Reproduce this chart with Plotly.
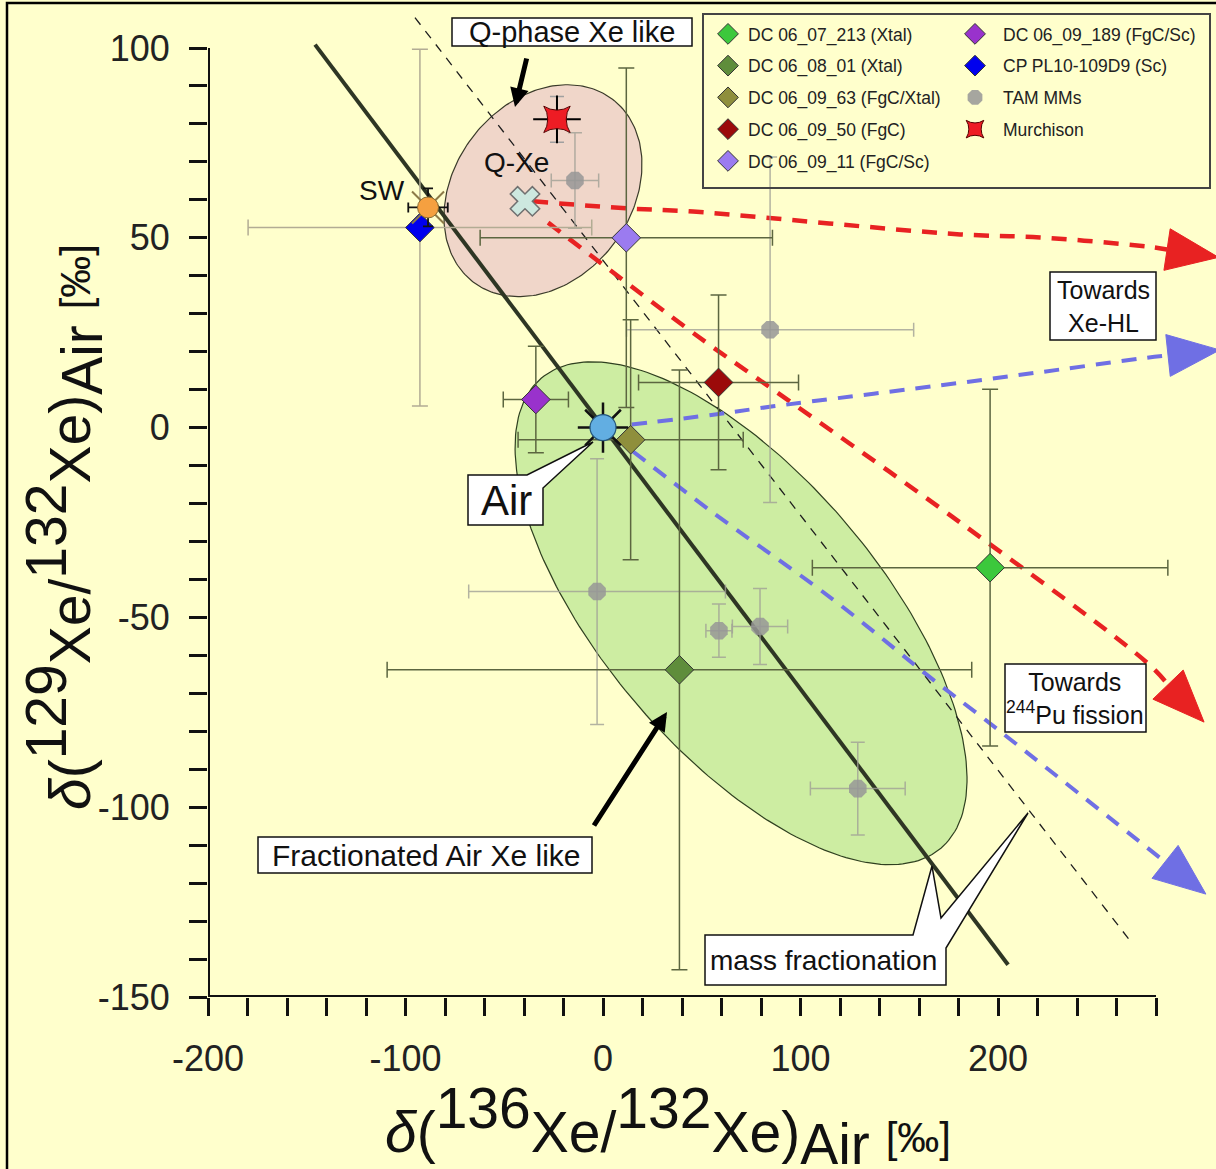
import math
import plotly.graph_objects as go

# ---------------- data (delta values in permil, relative to air) ----------------
dc_names = ["DC 06_07_213 (Xtal)", "DC 06_08_01 (Xtal)", "DC 06_09_63 (FgC/Xtal)",
            "DC 06_09_50 (FgC)", "DC 06_09_11 (FgC/Sc)", "DC 06_09_189 (FgC/Sc)",
            "CP PL10-109D9 (Sc)"]
dc_136 = [196.0, 38.7, 14.0, 58.5, 11.8, -34.0, -92.7]
dc_136_err = [90.0, 148.0, 57.0, 40.5, 74.0, 16.5, 87.0]
dc_129 = [-36.9, -63.8, -3.2, 11.9, 50.0, 7.4, 52.7]
dc_129_err = [47.0, 79.0, 31.6, 23.0, 44.7, 14.0, 47.0]
dc_colors = ["#3CC83C", "#5F8D3B", "#8F8F3C", "#9B0A0A", "#9B7BF0", "#9932CC", "#0000EE"]

tam_136 = [-14.2, 84.6, -3.0, 58.7, 79.5, 129.0]
tam_136_err = [12.0, 72.7, 65.0, 6.6, 14.0, 24.0]
tam_129 = [65.1, 25.8, -43.2, -53.5, -52.4, -95.1]
tam_129_err = [12.6, 45.5, 35.0, 7.0, 10.0, 12.2]

murchison_136 = [-23.3]
murchison_129 = [81.2]
murchison_129_err = [6.0]

sw_136, sw_129 = [-88.6], [58.0]
air_136, air_129 = [0.0], [0.0]
qxe_136, qxe_129 = [-39.5], [59.6]

# mass fractionation line through air, and its parallel dashed companion
mf_136 = [-145.8, 205.1]
mf_129 = [100.9, -141.5]
mf2_136 = [-95.2, 268.4]
mf2_129 = [108.0, -136.2]

# mixing trends
red_hl_136 = [-35.4, 13.7, 45.6, 180.8, 221.3, 275.4, 285.6]
red_hl_129 = [59.6, 57.7, 56.9, 50.9, 50.1, 47.7, 46.9]
red_pu_136 = [-27.8, 47.6, 81.0, 180.8, 275.4, 286.1]
red_pu_129 = [54.0, 24.2, 11.9, -25.0, -61.9, -67.7]
blue_hl_136 = [14.5, 55.8, 86.2, 180.8, 231.4, 275.3, 286.1]
blue_hl_129 = [0.8, 3.4, 5.6, 11.8, 15.3, 18.4, 19.0]
blue_pu_136 = [15.2, 55.7, 116.5, 167.1, 193.4, 284.6]
blue_pu_129 = [-6.3, -22.4, -45.3, -66.4, -76.9, -114.4]

# ellipses: centre, two semi-axis vectors (permil units)
q_ell_center, q_ell_u, q_ell_v = [-30.4, 62.4], [35.2, 24.1], [-35.7, 14.1]
f_ell_center, f_ell_u, f_ell_v = [69.9, -48.9], [101.2, -61.9], [-53.4, -23.6]

x_ticks = list(range(-200, 281, 20))
x_ticktext = [str(v) if v % 100 == 0 else "" for v in x_ticks]
y_ticks = list(range(-150, 101, 10))
y_ticktext = [str(v) if v % 50 == 0 else "" for v in y_ticks]

# ---------------- geometry ----------------
W, H = 1216, 1169
ML, MB = 208, 172
PX_X = 1.975   # px per permil, horizontal
PX_Y = 3.796   # px per permil, vertical
X_RANGE = [-200, -200 + (W - ML) / PX_X]
Y_RANGE = [-150, -150 + (H - MB) / PX_Y]
FONT = "Liberation Sans, Arial, sans-serif"
BG = "#FFFFCC"


def to_px(x, y):
    return ML + (x - X_RANGE[0]) * PX_X, (H - MB) - (y - Y_RANGE[0]) * PX_Y


def from_px(px, py):
    return X_RANGE[0] + (px - ML) / PX_X, Y_RANGE[0] + ((H - MB) - py) / PX_Y


def pap(px, py):
    return (px - ML) / (W - ML), (H - MB - py) / (H - MB)


def ellipse(c, u, v, n=241):
    ts = [2 * math.pi * i / (n - 1) for i in range(n)]
    return ([c[0] + u[0] * math.cos(t) + v[0] * math.sin(t) for t in ts],
            [c[1] + u[1] * math.cos(t) + v[1] * math.sin(t) for t in ts])


def arrow_head(xs, ys, length=52, half=21):
    x1, y1 = to_px(xs[-2], ys[-2])
    x2, y2 = to_px(xs[-1], ys[-1])
    d = math.hypot(x2 - x1, y2 - y1)
    ux, uy = (x2 - x1) / d, (y2 - y1) / d
    pts = [(x2 - uy * half, y2 + ux * half), (x2 + ux * length, y2 + uy * length),
           (x2 + uy * half, y2 - ux * half)]
    pts.append(pts[0])
    conv = [from_px(a, b) for a, b in pts]
    return [p[0] for p in conv], [p[1] for p in conv]


fig = go.Figure()

# regions
ex, ey = ellipse(q_ell_center, q_ell_u, q_ell_v)
fig.add_trace(go.Scatter(x=ex, y=ey, mode="lines", fill="toself", fillcolor="#F0D6C9",
                         line=dict(color="#3A3A2A", width=1.2), showlegend=False, hoverinfo="skip"))
ex, ey = ellipse(f_ell_center, f_ell_u, f_ell_v)
fig.add_trace(go.Scatter(x=ex, y=ey, mode="lines", fill="toself", fillcolor="#CDEDA2",
                         line=dict(color="#2F4020", width=1.2), showlegend=False, hoverinfo="skip"))

# fractionation lines
fig.add_trace(go.Scatter(x=mf2_136, y=mf2_129, mode="lines", showlegend=False, hoverinfo="skip",
                         line=dict(color="#1E1E1E", width=1.3, dash="9px,8px")))
fig.add_trace(go.Scatter(x=mf_136, y=mf_129, mode="lines", showlegend=False, hoverinfo="skip",
                         line=dict(color="#2E3624", width=4)))

# mixing trends with arrowheads
for xs, ys, col, w in [(red_hl_136, red_hl_129, "#E82222", 4.5),
                       (red_pu_136, red_pu_129, "#E82222", 4.5),
                       (blue_hl_136, blue_hl_129, "#6F6FE4", 4),
                       (blue_pu_136, blue_pu_129, "#6F6FE4", 4)]:
    fig.add_trace(go.Scatter(x=xs, y=ys, mode="lines", line_shape="spline", showlegend=False,
                             hoverinfo="skip", line=dict(color=col, width=w, dash="15px,11px")))
    hx, hy = arrow_head(xs, ys)
    fig.add_trace(go.Scatter(x=hx, y=hy, mode="lines", fill="toself", fillcolor=col,
                             line=dict(color=col, width=1), showlegend=False, hoverinfo="skip"))

# TAM micrometeorites
fig.add_trace(go.Scatter(
    x=tam_136, y=tam_129, mode="markers", name="TAM MMs", legend="legend2", legendrank=3,
    legendgroup="tam",
    marker=dict(symbol="octagon", size=19, color="rgba(150,150,150,0.85)", line=dict(width=0)),
    error_x=dict(type="data", array=tam_136_err, color="rgba(160,160,150,0.8)", thickness=1.5, width=7),
    error_y=dict(type="data", array=tam_129_err, color="rgba(160,160,150,0.8)", thickness=1.5, width=7)))

# DC / CP samples
for i, name in enumerate(dc_names):
    second = i >= 5
    ecol = "#B2AC94" if name.startswith("CP") else "#5C6640"
    fig.add_trace(go.Scatter(
        x=[dc_136[i]], y=[dc_129[i]], mode="markers", name=name,
        legend="legend2" if second else "legend", legendrank=(i - 4) if second else i + 1,
        legendgroup="g%d" % i,
        marker=dict(symbol="diamond", size=22, color=dc_colors[i], line=dict(color="#333333", width=1)),
        error_x=dict(type="data", array=[dc_136_err[i]], color=ecol, thickness=1.5, width=8),
        error_y=dict(type="data", array=[dc_129_err[i]], color=ecol, thickness=1.5, width=8)))

# Murchison
fig.add_trace(go.Scatter(x=murchison_136, y=murchison_129, mode="markers", showlegend=False,
                         hoverinfo="skip",
                         marker=dict(symbol="cross-thin-open", size=34, color="#000",
                                     line=dict(color="#000", width=2)),
                         error_y=dict(type="data", array=murchison_129_err, color="#A0A0A0",
                                      thickness=1.5, width=7)))
fig.add_trace(go.Scatter(x=murchison_136, y=murchison_129, mode="markers", name="Murchison",
                         legend="legend2", legendrank=4, legendgroup="murch",
                         marker=dict(symbol="star-square", size=24, color="#EE1C24",
                                     line=dict(color="#550000", width=1))))

# solar wind
fig.add_trace(go.Scatter(x=sw_136, y=sw_129, mode="markers", showlegend=False, hoverinfo="skip",
                         marker=dict(symbol="x-thin-open", size=32, color="#8C7A48",
                                     line=dict(color="#8C7A48", width=2)),
                         error_x=dict(type="data", array=[10], color="#111", thickness=1.8, width=5),
                         error_y=dict(type="data", array=[5], color="#111", thickness=1.8, width=5)))
fig.add_trace(go.Scatter(x=sw_136, y=sw_129, mode="markers", showlegend=False, hoverinfo="skip",
                         marker=dict(symbol="circle", size=21, color="#F5A040",
                                     line=dict(color="#8A6A30", width=1))))

# air
fig.add_trace(go.Scatter(x=air_136, y=air_129, mode="markers", showlegend=False, hoverinfo="skip",
                         marker=dict(symbol="asterisk-open", size=42, color="#111",
                                     line=dict(color="#111", width=2.5))))
fig.add_trace(go.Scatter(x=air_136, y=air_129, mode="markers", showlegend=False, hoverinfo="skip",
                         marker=dict(symbol="circle", size=26, color="#62AEE2",
                                     line=dict(color="#24557A", width=1.2))))

# Q-Xe
fig.add_trace(go.Scatter(x=qxe_136, y=qxe_129, mode="markers", showlegend=False, hoverinfo="skip",
                         marker=dict(symbol="x", size=26, color="#CDE8DF",
                                     line=dict(color="#707070", width=1.5))))

# ---------------- shapes ----------------
shapes = []


def rect_px(x0, y0, x1, y1, fill="white", lw=1.5, color="#111"):
    a, b = pap(x0, y1)
    c, d = pap(x1, y0)
    shapes.append(dict(type="rect", xref="paper", yref="paper", x0=a, y0=b, x1=c, y1=d,
                       fillcolor=fill, line=dict(color=color, width=lw), layer="above"))


def path_px(points, fill="white", lw=1.5):
    parts = []
    for k, (px, py) in enumerate(points):
        a, b = pap(px, py)
        parts.append(("M" if k == 0 else "L") + "%.5f,%.5f" % (a, b))
    shapes.append(dict(type="path", xref="paper", yref="paper", path=" ".join(parts) + " Z",
                       fillcolor=fill, line=dict(color="#111", width=lw), layer="above"))


# outer frame
a0, b0 = pap(7, 3)
a1, b1 = pap(1240, 1190)
shapes.append(dict(type="rect", xref="paper", yref="paper", x0=a0, y0=b1, x1=a1, y1=b0,
                   line=dict(color="#000", width=2.5), fillcolor="rgba(0,0,0,0)", layer="above"))
# legend frame
rect_px(703, 14, 1210, 188, fill="rgba(0,0,0,0)", lw=2, color="#444")

# axis lines
shapes.append(dict(type="line", xref="x", yref="y", x0=x_ticks[0], x1=x_ticks[-1],
                   y0=y_ticks[0], y1=y_ticks[0], line=dict(color="#111", width=4), layer="above"))
shapes.append(dict(type="line", xref="x", yref="y", x0=x_ticks[0], x1=x_ticks[0],
                   y0=y_ticks[0], y1=y_ticks[-1], line=dict(color="#111", width=4), layer="above"))

# text boxes
rect_px(452, 18, 692, 46)
rect_px(258, 837, 592, 873)
rect_px(1050, 272, 1156, 340)
rect_px(1005, 664, 1146, 732)
# callout boxes
path_px([(468, 475), (527, 475), (593, 442), (543, 488), (543, 525), (468, 525)])
path_px([(705, 935), (913, 935), (932, 866), (941, 918), (1028, 813), (946, 948),
         (946, 985), (705, 985)])

# ---------------- annotations ----------------
ann = []


def text_px(px, py, text, size, **kw):
    a, b = pap(px, py)
    d = dict(xref="paper", yref="paper", x=a, y=b, text=text, showarrow=False,
             font=dict(family=FONT, size=size, color="#111"), xanchor="center", yanchor="middle")
    d.update(kw)
    ann.append(d)


text_px(572, 32, "Q-phase Xe like", 29)
text_px(516, 162, "Q-Xe", 28)
text_px(382, 190, "SW", 28)
text_px(506, 500, "Air", 42)
text_px(426, 855, "Fractionated Air Xe like", 30)
text_px(1103, 306, "Towards<br>Xe-HL", 25)
text_px(1075, 698, "Towards<br><sup>244</sup>Pu fission", 25)
text_px(823, 960, "mass fractionation", 28)


def arrow_px(tip, tail):
    a, b = pap(*tip)
    ann.append(dict(xref="paper", yref="paper", x=a, y=b, ax=tail[0] - tip[0], ay=tail[1] - tip[1],
                    text="", showarrow=True, arrowhead=2, arrowsize=0.75, arrowwidth=5,
                    arrowcolor="#000", standoff=0))


arrow_px((515, 107), (527, 57))
arrow_px((667, 712), (593, 827))

big = "<span style='font-size:57px'>%s</span>"
x_title = ("<i>δ</i>(<sup>" + big % "136" + "</sup>Xe/<sup>" + big % "132" + "</sup>Xe)<sub>"
           + big % "Air" + "</sub> <span style='font-size:42px'>[‰]</span>")
y_title = ("<i>δ</i>(<sup>" + big % "129" + "</sup>Xe/<sup>" + big % "132" + "</sup>Xe)<sub>"
           + big % "Air" + "</sub> <span style='font-size:42px'>[‰]</span>")
text_px(668, 1126, x_title, 57)
text_px(64, 527, y_title, 57, textangle=-90)

fig.update_layout(
    width=W, height=H,
    margin=dict(l=ML, r=0, t=0, b=MB, pad=0),
    paper_bgcolor=BG, plot_bgcolor=BG,
    font=dict(family=FONT, color="#222"),
    shapes=shapes, annotations=ann,
    xaxis=dict(range=X_RANGE, showgrid=False, zeroline=False, showline=False,
               tickmode="array", tickvals=x_ticks, ticktext=x_ticktext,
               ticks="outside", ticklen=18, tickwidth=3, tickcolor="#111",
               tickfont=dict(size=36, family=FONT, color="#222"), ticklabelstandoff=12),
    yaxis=dict(range=Y_RANGE, showgrid=False, zeroline=False, showline=False,
               tickmode="array", tickvals=y_ticks, ticktext=y_ticktext,
               ticks="outside", ticklen=18, tickwidth=3, tickcolor="#111",
               tickfont=dict(size=36, family=FONT, color="#222"), ticklabelstandoff=12),
    legend=dict(x=pap(708, 0)[0], y=pap(0, 16)[1], xanchor="left", yanchor="top",
                bgcolor="rgba(0,0,0,0)", borderwidth=0, tracegroupgap=6,
                font=dict(size=17.5, family=FONT, color="#222")),
    legend2=dict(x=pap(947, 0)[0], y=pap(0, 16)[1], xanchor="left", yanchor="top",
                 bgcolor="rgba(0,0,0,0)", borderwidth=0, tracegroupgap=6, itemwidth=46,
                 font=dict(size=17.5, family=FONT, color="#222")),
)

fig.write_html("out.html")
